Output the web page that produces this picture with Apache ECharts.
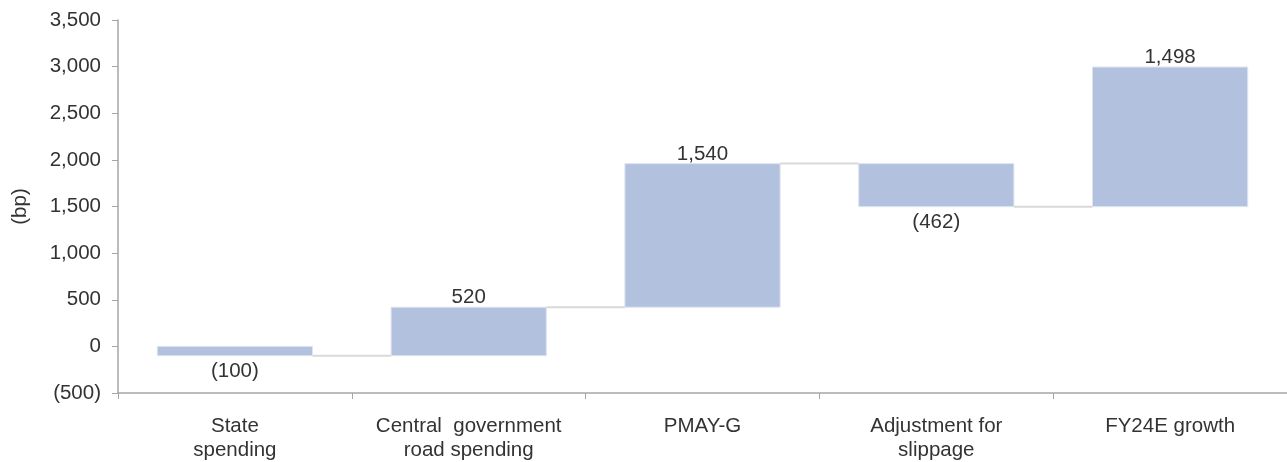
<!DOCTYPE html>
<html><head><meta charset="utf-8">
<script src="https://cdn.jsdelivr.net/npm/echarts@6/dist/echarts.min.js"></script>
<style>html,body{margin:0;padding:0;background:#fff}#c{width:1287px;height:462px}</style>
</head><body><div id="c"></div>
<script>
const categories = ["State\nspending", "Central  government\nroad spending", "PMAY-G", "Adjustment for\nslippage", "FY24E growth"];
const barStarts = [0, -100, 420, 1960, 1498];
const barChanges = [-100, 520, 1540, -462, 1498];
const yTicks = { min: -500, max: 3500, interval: 500 };

const FONT = 'Liberation Sans, Arial, sans-serif';
const FS = 20.5;
const TXT = '#333';

function fmt(v) {
  const s = Math.abs(v).toLocaleString('en-US');
  return v < 0 ? '(' + s + ')' : s;
}

const data = categories.map((c, i) => [i, barStarts[i], barStarts[i] + barChanges[i], barChanges[i]]);

const chart = echarts.init(document.getElementById('c'), null, { renderer: 'canvas' });
chart.setOption({
  animation: false,
  textStyle: { fontFamily: FONT },
  grid: { left: 118, right: 0, top: 20, bottom: 69, containLabel: false, outerBoundsMode: 'none' },
  xAxis: {
    type: 'category', data: categories,
    axisLine: { onZero: false, lineStyle: { color: '#a6a6a6', width: 1.5 } },
    axisTick: { show: true, length: 6, lineStyle: { color: '#a6a6a6' } },
    axisLabel: { fontSize: FS, color: TXT, lineHeight: 24, margin: 21, interval: 0, fontFamily: FONT }
  },
  yAxis: {
    type: 'value', min: yTicks.min, max: yTicks.max, interval: yTicks.interval,
    name: '(bp)', nameLocation: 'middle', nameRotate: 90, nameGap: 87,
    nameTextStyle: { fontSize: FS, color: TXT, fontFamily: FONT },
    axisLine: { show: true, lineStyle: { color: '#a6a6a6', width: 1.5 } },
    axisTick: { show: true, length: 6, lineStyle: { color: '#a6a6a6' } },
    splitLine: { show: false },
    axisLabel: { fontSize: FS, color: TXT, margin: 17, formatter: fmt, fontFamily: FONT }
  },
  series: [{
    type: 'custom',
    data: data,
    encode: { x: 0, y: [1, 2] },
    renderItem: function (params, api) {
      const i = api.value(0);
      const lo = api.value(1), hi = api.value(2), ch = api.value(3);
      const band = api.size([1, 0])[0];
      const w = band * 0.664;
      const pLo = api.coord([i, Math.min(lo, hi)]);
      const pHi = api.coord([i, Math.max(lo, hi)]);
      const children = [{
        type: 'rect',
        shape: { x: pLo[0] - w / 2, y: pHi[1], width: w, height: pLo[1] - pHi[1] },
        style: { fill: '#b2c2de', stroke: '#dfe5f1', lineWidth: 1 }
      }];
      if (i < categories.length - 1) {
        const pe = api.coord([i, hi]);
        children.push({
          type: 'line',
          shape: { x1: pe[0] + w / 2, y1: pe[1], x2: pe[0] + band - w / 2, y2: pe[1] },
          style: { stroke: '#d9d9d9', lineWidth: 2 }
        });
      }
      const neg = ch < 0;
      children.push({
        type: 'text',
        style: {
          text: fmt(ch), x: pLo[0], y: neg ? pLo[1] + 5 : pHi[1] + 1,
          align: 'center', verticalAlign: neg ? 'top' : 'bottom',
          fontSize: FS, fill: TXT, fontFamily: FONT
        }
      });
      return { type: 'group', children: children };
    }
  }]
});
</script></body></html>
